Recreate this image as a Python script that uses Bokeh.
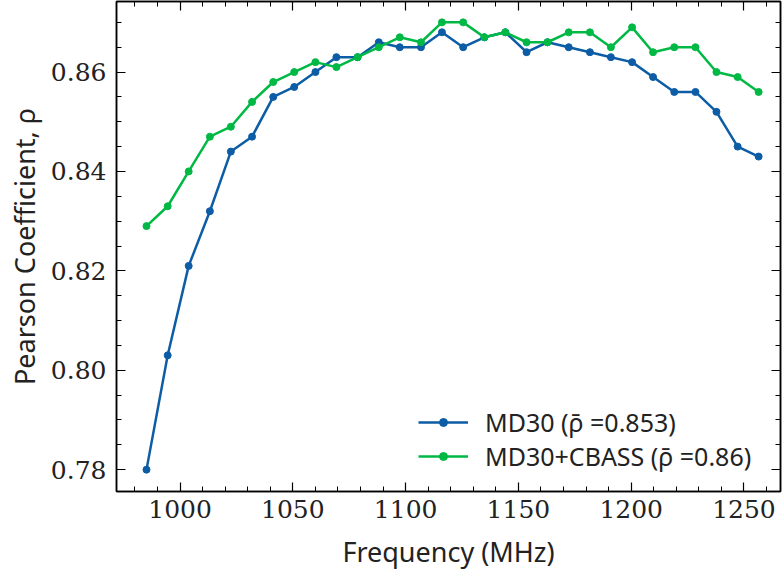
from bokeh.plotting import figure
from bokeh.models import Range1d, LinearAxis, SingleIntervalTicker, Legend, LegendItem, CustomJSTickFormatter
from bokeh.embed import file_html
from bokeh.resources import INLINE

# Data
freq = [985.1, 994.5, 1003.8, 1013.2, 1022.5, 1031.9, 1041.3, 1050.6, 1060.0, 1069.3,
        1078.7, 1088.1, 1097.4, 1106.8, 1116.1, 1125.5, 1134.9, 1144.2, 1153.6, 1162.9,
        1172.3, 1181.7, 1191.0, 1200.4, 1209.7, 1219.1, 1228.5, 1237.8, 1247.2, 1256.5]
md30 = [0.780, 0.803, 0.821, 0.832, 0.844, 0.847, 0.855, 0.857, 0.860, 0.863,
        0.863, 0.866, 0.865, 0.865, 0.868, 0.865, 0.867, 0.868, 0.864, 0.866,
        0.865, 0.864, 0.863, 0.862, 0.859, 0.856, 0.856, 0.852, 0.845, 0.843]
md30_cbass = [0.829, 0.833, 0.840, 0.847, 0.849, 0.854, 0.858, 0.860, 0.862, 0.861,
              0.863, 0.865, 0.867, 0.866, 0.870, 0.870, 0.867, 0.868, 0.866, 0.866,
              0.868, 0.868, 0.865, 0.869, 0.864, 0.865, 0.865, 0.860, 0.859, 0.856]
labels = ["MD30 (\u03c1\u0304 =0.853)", "MD30+CBASS (\u03c1\u0304 =0.86)"]
colors = ["#0C5DA5", "#00B945"]

SERIF = "DejaVu Serif"
SANS = "Noto Sans"

p = figure(width=782, height=576, output_backend="svg", toolbar_location=None,
           x_range=Range1d(971.8, 1266.2), y_range=Range1d(0.7756, 0.8742))
p.min_border_left = 116
p.min_border_right = 2
p.min_border_top = 1
p.min_border_bottom = 85
p.xgrid.visible = False
p.ygrid.visible = False
p.outline_line_color = "black"
p.outline_line_width = 1.5
p.background_fill_color = "white"
p.border_fill_color = "white"

def style_axis(ax, ticker, show_labels=True):
    ax.ticker = ticker
    ax.major_tick_in = 9
    ax.major_tick_out = 0
    ax.minor_tick_in = 5
    ax.minor_tick_out = 0
    ax.axis_line_color = "black"
    ax.axis_line_width = 1.5
    ax.major_tick_line_width = 1.2
    ax.minor_tick_line_width = 1.0
    ax.major_tick_line_color = "black"
    ax.minor_tick_line_color = "black"
    if show_labels:
        ax.major_label_text_font = SERIF
        ax.major_label_text_font_size = "25px"
        ax.major_label_text_color = "#222222"
        ax.axis_label_text_font = SANS
        ax.axis_label_text_font_size = "27px"
        ax.axis_label_text_font_style = "normal"
        ax.axis_label_text_color = "#222222"
    else:
        ax.major_label_text_color = None
        ax.major_label_text_alpha = 0
        ax.major_label_text_font_size = "1px"
        ax.major_label_standoff = 0
        ax.axis_label = None

xt = lambda: SingleIntervalTicker(interval=50, num_minor_ticks=5)
yt = lambda: SingleIntervalTicker(interval=0.02, num_minor_ticks=4)

style_axis(p.xaxis[0], xt())
style_axis(p.yaxis[0], yt())
p.xaxis[0].axis_label = "Frequency (MHz)"
p.yaxis[0].axis_label = "Pearson Coefficient, \u03c1"
p.xaxis[0].major_label_standoff = 8
p.xaxis[0].axis_label_standoff = 12
p.yaxis[0].major_label_standoff = 10
p.yaxis[0].formatter = CustomJSTickFormatter(code="return tick.toFixed(2);")

top_ax = LinearAxis()
style_axis(top_ax, xt(), show_labels=False)
p.add_layout(top_ax, "above")
right_ax = LinearAxis()
style_axis(right_ax, yt(), show_labels=False)
p.add_layout(right_ax, "right")

items = []
for ys, lab, col in zip([md30, md30_cbass], labels, colors):
    r1 = p.line(freq, ys, line_color=col, line_width=2.5)
    r2 = p.scatter(freq, ys, size=7, fill_color=col, line_color=col)
    items.append(LegendItem(label=lab, renderers=[r1, r2]))

legend = Legend(items=items, location=(302, 18))
legend.border_line_alpha = 0
legend.background_fill_alpha = 0
legend.label_text_font = SANS
legend.label_text_font_size = "25px"
legend.label_text_color = "#222222"
legend.glyph_width = 50
legend.glyph_height = 20
legend.spacing = 0
legend.label_standoff = 17
legend.margin = 0
legend.padding = 0
p.add_layout(legend)

open("out.html", "w").write(file_html(p, INLINE))
